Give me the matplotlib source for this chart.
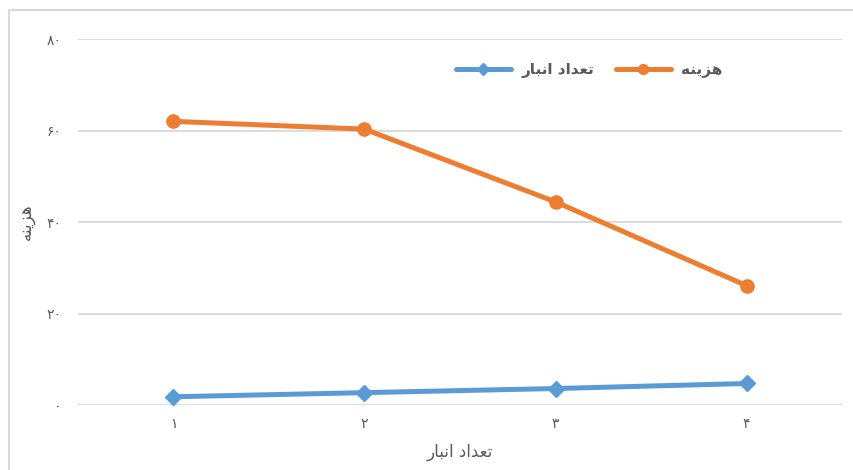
# cost vs. number of warehouses, Excel-style line chart with Persian labels
import matplotlib.pyplot as plt
from matplotlib.lines import Line2D

# matplotlib has no bidi/shaping, so the Persian strings are given in
# presentation forms, already in visual (left-to-right) order
COST = "\uFEEA\uFEE8\uFEF3\uFEB0\uFEEB"                                   # هزینه
WAREHOUSES = "\uFEAD\uFE8E\uFE92\uFEE7\uFE8D \uFEA9\uFE8D\uFEAA\uFECC\uFE97"  # تعداد انبار

x_labels = ["۱", "۲", "۳", "۴"]
y_ticks = [0, 20, 40, 60, 80]
y_tick_labels = ["۰", "۲۰", "۴۰", "۶۰", "۸۰"]

warehouses = [1.8, 2.7, 3.6, 4.7]
cost = [62.0, 60.3, 44.4, 26.1]

BLUE = "#5B9BD5"
ORANGE = "#ED7D31"
GRID = "#D9D9D9"
TEXT = "#595959"

plt.rcParams['font.family'] = ['DejaVu Sans']

fig = plt.figure(figsize=(8.54, 4.70), dpi=100)
ax = fig.add_axes([0.0913, 0.1383, 0.8947, 0.7787])

xs = range(1, len(x_labels) + 1)
ax.plot(xs, warehouses, color=BLUE, lw=3.6, marker='D', ms=8.5,
        label=WAREHOUSES, solid_capstyle='round')
ax.plot(xs, cost, color=ORANGE, lw=3.6, marker='o', ms=9.5,
        label=COST, solid_capstyle='round')

ax.set_xlim(0.5, 4.5)
ax.set_ylim(0, 80)
ax.set_xticks(list(xs))
ax.set_xticklabels(x_labels)
ax.set_yticks(y_ticks)
ax.set_yticklabels(y_tick_labels)
ax.tick_params(length=0, colors=TEXT, labelsize=10)
ax.tick_params(axis='y', pad=12)
ax.tick_params(axis='x', pad=9)

ax.grid(axis='y', color=GRID, lw=1.3)
ax.set_axisbelow(True)
for s in ax.spines.values():
    s.set_visible(False)

ax.set_xlabel(WAREHOUSES, color=TEXT, fontsize=12, labelpad=8)
ax.set_ylabel(COST, color=TEXT, fontsize=12, labelpad=8)

leg = fig.legend(loc='center', bbox_to_anchor=(0.69, 0.851), ncol=2,
                 frameon=False, handlelength=3.6, handletextpad=0.7,
                 columnspacing=1.4, markerscale=0.75,
                 prop={'weight': 'bold', 'size': 11})
for t in leg.get_texts():
    t.set_color(TEXT)

# partial chart-area border (left and top)
fig.add_artist(Line2D([8.5 / 854, 8.5 / 854, 1.0], [0.0, 1 - 10 / 470, 1 - 10 / 470],
                      transform=fig.transFigure, color=GRID, lw=1.5))

fig.savefig("out.png", dpi=100)
